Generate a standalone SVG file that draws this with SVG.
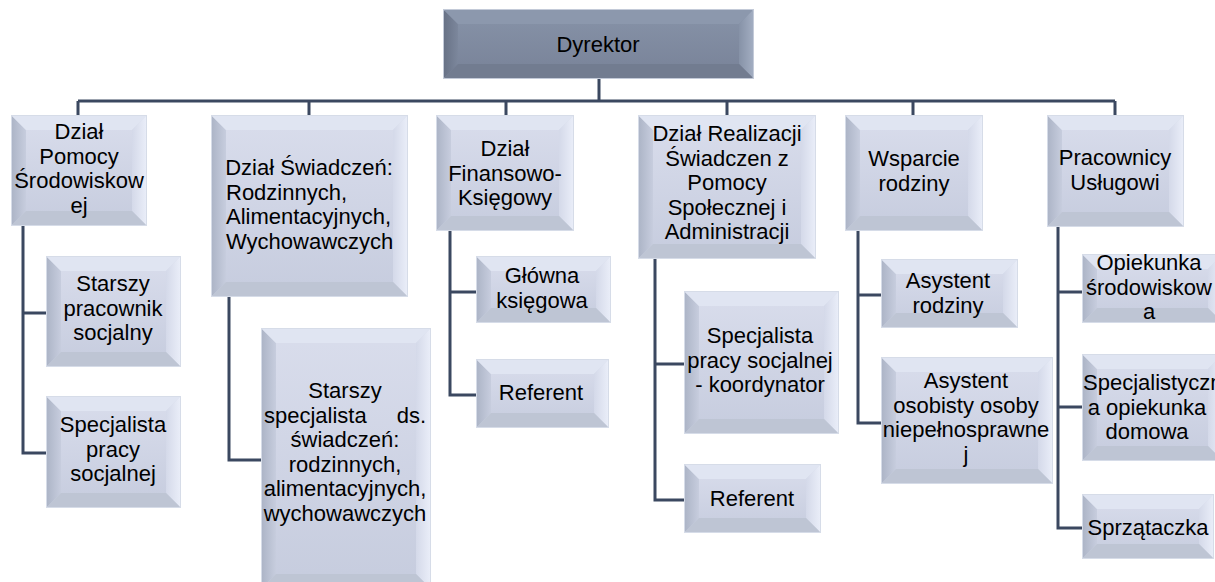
<svg xmlns="http://www.w3.org/2000/svg" width="1215" height="582" viewBox="0 0 1215 582">
<defs>
<style>
.t{font-family:"Liberation Sans",Arial,sans-serif;font-size:22px;fill:#000}
.c{text-anchor:middle}
.e{text-anchor:end}
.conn{stroke:#3b4860;stroke-width:3;fill:none}
.face{fill:url(#gFace);stroke:#d6dce8;stroke-width:2}
.bl{fill:url(#gLeft)}
.bt{fill:#e0e5f2}
.br{fill:url(#gRight)}
.bb{fill:#bec5d4}
.faceD{fill:url(#gFaceD);stroke:#c3cad8;stroke-width:2}
.blD{fill:url(#gLeftD)}
.btD{fill:#8c98ad}
.brD{fill:url(#gRightD)}
.bbD{fill:#727c90}
</style>
<linearGradient id="gFace" x1="0" y1="0" x2="0" y2="1"><stop offset="0" stop-color="#d9ddec"/><stop offset="1" stop-color="#c6ccde"/></linearGradient>
<linearGradient id="gLeft" x1="0" y1="0" x2="1" y2="0"><stop offset="0" stop-color="#adb5c7"/><stop offset="1" stop-color="#c7cdde"/></linearGradient>
<linearGradient id="gRight" x1="0" y1="0" x2="1" y2="0"><stop offset="0" stop-color="#d4d9e9"/><stop offset="1" stop-color="#e9edf8"/></linearGradient>
<linearGradient id="gFaceD" x1="0" y1="0" x2="0" y2="1"><stop offset="0" stop-color="#8793a8"/><stop offset="1" stop-color="#788298"/></linearGradient>
<linearGradient id="gLeftD" x1="0" y1="0" x2="1" y2="0"><stop offset="0" stop-color="#687286"/><stop offset="1" stop-color="#7c879c"/></linearGradient>
<linearGradient id="gRightD" x1="0" y1="0" x2="1" y2="0"><stop offset="0" stop-color="#8692a7"/><stop offset="1" stop-color="#a2adc1"/></linearGradient>
</defs>
<rect x="0" y="0" width="1215" height="582" fill="#ffffff"/>

<g id="connectors">
<path class="conn" d="M599,78 V101 M78,101 H1115 M78,101 V116 M309,101 V116 M506,101 V116 M727,101 V116 M913,101 V116 M1115,101 V116"/>
<path class="conn" d="M23,225 V453 H47 M23,313 H47"/>
<path class="conn" d="M229,296 V460 H262"/>
<path class="conn" d="M450,230 V395 H477 M450,292 H477"/>
<path class="conn" d="M655,258 V500 H685 M655,364 H685"/>
<path class="conn" d="M858,230 V423 H882 M858,295 H882"/>
<path class="conn" d="M1058,226 V528 H1083 M1058,292 H1083 M1058,407 H1083"/>
</g>

<g id="dyrektor">
<rect class="faceD" x="444" y="10" width="309" height="68"/>
<polygon class="blD" points="444,10 458,24 458,64 444,78"/>
<polygon class="btD" points="444,10 753,10 739,24 458,24"/>
<polygon class="brD" points="753,10 753,78 739,64 739,24"/>
<polygon class="bbD" points="444,78 458,64 739,64 753,78"/>
<text class="t c" x="598" y="52">Dyrektor</text>
</g>

<g id="dzial-pomocy">
<rect class="face" x="12" y="116" width="134" height="109"/>
<polygon class="bl" points="12,116 26,130 26,211 12,225"/>
<polygon class="bt" points="12,116 146,116 132,130 26,130"/>
<polygon class="br" points="146,116 146,225 132,211 132,130"/>
<polygon class="bb" points="12,225 26,211 132,211 146,225"/>
<text class="t c" x="79" y="139">Dział</text>
<text class="t c" x="79" y="163.5">Pomocy</text>
<text class="t c" x="79" y="188">Środowiskow</text>
<text class="t c" x="79" y="212.5">ej</text>
</g>

<g id="dzial-swiadczen">
<rect class="face" x="212" y="116" width="195" height="180"/>
<polygon class="bl" points="212,116 226,130 226,282 212,296"/>
<polygon class="bt" points="212,116 407,116 393,130 226,130"/>
<polygon class="br" points="407,116 407,296 393,282 393,130"/>
<polygon class="bb" points="212,296 226,282 393,282 407,296"/>
<text class="t c" x="309" y="175">Dział Świadczeń:</text>
<text class="t" x="226" y="199.5">Rodzinnych,</text>
<text class="t" x="226" y="224">Alimentacyjnych,</text>
<text class="t" x="226" y="248.5">Wychowawczych</text>
</g>

<g id="dzial-finansowy">
<rect class="face" x="437" y="116" width="136" height="114"/>
<polygon class="bl" points="437,116 451,130 451,216 437,230"/>
<polygon class="bt" points="437,116 573,116 559,130 451,130"/>
<polygon class="br" points="573,116 573,230 559,216 559,130"/>
<polygon class="bb" points="437,230 451,216 559,216 573,230"/>
<text class="t c" x="505" y="156">Dział</text>
<text class="t c" x="505" y="180.5">Finansowo-</text>
<text class="t c" x="505" y="205">Księgowy</text>
</g>

<g id="dzial-realizacji">
<rect class="face" x="639" y="116" width="176" height="142"/>
<polygon class="bl" points="639,116 653,130 653,244 639,258"/>
<polygon class="bt" points="639,116 815,116 801,130 653,130"/>
<polygon class="br" points="815,116 815,258 801,244 801,130"/>
<polygon class="bb" points="639,258 653,244 801,244 815,258"/>
<text class="t c" x="727" y="141">Dział Realizacji</text>
<text class="t c" x="727" y="165.5">Świadczen z</text>
<text class="t c" x="727" y="190">Pomocy</text>
<text class="t c" x="727" y="214.5">Społecznej  i</text>
<text class="t c" x="727" y="239">Administracji</text>
</g>

<g id="wsparcie-rodziny">
<rect class="face" x="846" y="116" width="136" height="114"/>
<polygon class="bl" points="846,116 860,130 860,216 846,230"/>
<polygon class="bt" points="846,116 982,116 968,130 860,130"/>
<polygon class="br" points="982,116 982,230 968,216 968,130"/>
<polygon class="bb" points="846,230 860,216 968,216 982,230"/>
<text class="t c" x="914" y="166">Wsparcie</text>
<text class="t c" x="914" y="190.5">rodziny</text>
</g>

<g id="pracownicy-uslugowi">
<rect class="face" x="1048" y="116" width="135" height="110"/>
<polygon class="bl" points="1048,116 1062,130 1062,212 1048,226"/>
<polygon class="bt" points="1048,116 1183,116 1169,130 1062,130"/>
<polygon class="br" points="1183,116 1183,226 1169,212 1169,130"/>
<polygon class="bb" points="1048,226 1062,212 1169,212 1183,226"/>
<text class="t c" x="1115" y="165">Pracownicy</text>
<text class="t c" x="1115" y="189.5">Usługowi</text>
</g>

<g id="starszy-pracownik">
<rect class="face" x="47" y="257" width="133" height="109"/>
<polygon class="bl" points="47,257 61,271 61,352 47,366"/>
<polygon class="bt" points="47,257 180,257 166,271 61,271"/>
<polygon class="br" points="180,257 180,366 166,352 166,271"/>
<polygon class="bb" points="47,366 61,352 166,352 180,366"/>
<text class="t c" x="113" y="291">Starszy</text>
<text class="t c" x="113" y="315.5">pracownik</text>
<text class="t c" x="113" y="340">socjalny</text>
</g>

<g id="specjalista-pracy-1">
<rect class="face" x="47" y="397" width="133" height="110"/>
<polygon class="bl" points="47,397 61,411 61,493 47,507"/>
<polygon class="bt" points="47,397 180,397 166,411 61,411"/>
<polygon class="br" points="180,397 180,507 166,493 166,411"/>
<polygon class="bb" points="47,507 61,493 166,493 180,507"/>
<text class="t c" x="113" y="432">Specjalista</text>
<text class="t c" x="113" y="456.5">pracy</text>
<text class="t c" x="113" y="481">socjalnej</text>
</g>

<g id="starszy-specjalista">
<rect class="face" x="262" y="329" width="168" height="259"/>
<polygon class="bl" points="262,329 276,343 276,574 262,588"/>
<polygon class="bt" points="262,329 430,329 416,343 276,343"/>
<polygon class="br" points="430,329 430,588 416,574 416,343"/>
<polygon class="bb" points="262,588 276,574 416,574 430,588"/>
<text class="t c" x="345" y="398">Starszy</text>
<text class="t" x="264" y="422.5">specjalista</text>
<text class="t e" x="426" y="422.5">ds.</text>
<text class="t c" x="345" y="447">świadczeń:</text>
<text class="t c" x="345" y="471.5">rodzinnych,</text>
<text class="t c" x="345" y="496">alimentacyjnych,</text>
<text class="t c" x="345" y="520.5">wychowawczych</text>
</g>

<g id="glowna-ksiegowa">
<rect class="face" x="477" y="257" width="133" height="65"/>
<polygon class="bl" points="477,257 491,271 491,308 477,322"/>
<polygon class="bt" points="477,257 610,257 596,271 491,271"/>
<polygon class="br" points="610,257 610,322 596,308 596,271"/>
<polygon class="bb" points="477,322 491,308 596,308 610,322"/>
<text class="t c" x="542" y="283">Główna</text>
<text class="t c" x="542" y="307.5">księgowa</text>
</g>

<g id="referent-1">
<rect class="face" x="477" y="360" width="131" height="67"/>
<polygon class="bl" points="477,360 491,374 491,413 477,427"/>
<polygon class="bt" points="477,360 608,360 594,374 491,374"/>
<polygon class="br" points="608,360 608,427 594,413 594,374"/>
<polygon class="bb" points="477,427 491,413 594,413 608,427"/>
<text class="t c" x="541" y="400">Referent</text>
</g>

<g id="specjalista-koordynator">
<rect class="face" x="685" y="292" width="153" height="141"/>
<polygon class="bl" points="685,292 699,306 699,419 685,433"/>
<polygon class="bt" points="685,292 838,292 824,306 699,306"/>
<polygon class="br" points="838,292 838,433 824,419 824,306"/>
<polygon class="bb" points="685,433 699,419 824,419 838,433"/>
<text class="t c" x="760" y="343">Specjalista</text>
<text class="t c" x="760" y="367.5">pracy socjalnej</text>
<text class="t c" x="760" y="392">- koordynator</text>
</g>

<g id="referent-2">
<rect class="face" x="685" y="465" width="135" height="67"/>
<polygon class="bl" points="685,465 699,479 699,518 685,532"/>
<polygon class="bt" points="685,465 820,465 806,479 699,479"/>
<polygon class="br" points="820,465 820,532 806,518 806,479"/>
<polygon class="bb" points="685,532 699,518 806,518 820,532"/>
<text class="t c" x="752" y="506">Referent</text>
</g>

<g id="asystent-rodziny">
<rect class="face" x="882" y="260" width="135" height="67"/>
<polygon class="bl" points="882,260 896,274 896,313 882,327"/>
<polygon class="bt" points="882,260 1017,260 1003,274 896,274"/>
<polygon class="br" points="1017,260 1017,327 1003,313 1003,274"/>
<polygon class="bb" points="882,327 896,313 1003,313 1017,327"/>
<text class="t c" x="948" y="288">Asystent</text>
<text class="t c" x="948" y="312.5">rodziny</text>
</g>

<g id="asystent-osobisty">
<rect class="face" x="882" y="358" width="170" height="125"/>
<polygon class="bl" points="882,358 896,372 896,469 882,483"/>
<polygon class="bt" points="882,358 1052,358 1038,372 896,372"/>
<polygon class="br" points="1052,358 1052,483 1038,469 1038,372"/>
<polygon class="bb" points="882,483 896,469 1038,469 1052,483"/>
<text class="t c" x="966" y="388">Asystent</text>
<text class="t c" x="966" y="412.5">osobisty osoby</text>
<text class="t c" x="966" y="437">niepełnosprawne</text>
<text class="t c" x="966" y="461.5">j</text>
</g>

<g id="opiekunka-srodowiskowa">
<rect class="face" x="1083" y="255" width="139" height="67"/>
<polygon class="bl" points="1083,255 1097,269 1097,308 1083,322"/>
<polygon class="bt" points="1083,255 1222,255 1208,269 1097,269"/>
<polygon class="br" points="1222,255 1222,322 1208,308 1208,269"/>
<polygon class="bb" points="1083,322 1097,308 1208,308 1222,322"/>
<text class="t c" x="1149" y="270">Opiekunka</text>
<text class="t c" x="1149" y="294.5">środowiskow</text>
<text class="t c" x="1149" y="319">a</text>
</g>

<g id="specjalistyczna-opiekunka">
<rect class="face" x="1083" y="355" width="139" height="105"/>
<polygon class="bl" points="1083,355 1097,369 1097,446 1083,460"/>
<polygon class="bt" points="1083,355 1222,355 1208,369 1097,369"/>
<polygon class="br" points="1222,355 1222,460 1208,446 1208,369"/>
<polygon class="bb" points="1083,460 1097,446 1208,446 1222,460"/>
<text class="t" x="1083" y="390">Specjalistyczn</text>
<text class="t c" x="1147" y="414.5">a opiekunka</text>
<text class="t c" x="1147" y="439">domowa</text>
</g>

<g id="sprzataczka">
<rect class="face" x="1083" y="495" width="130" height="63"/>
<polygon class="bl" points="1083,495 1097,509 1097,544 1083,558"/>
<polygon class="bt" points="1083,495 1213,495 1199,509 1097,509"/>
<polygon class="br" points="1213,495 1213,558 1199,544 1199,509"/>
<polygon class="bb" points="1083,558 1097,544 1199,544 1213,558"/>
<text class="t c" x="1148" y="535">Sprzątaczka</text>
</g>
</svg>
